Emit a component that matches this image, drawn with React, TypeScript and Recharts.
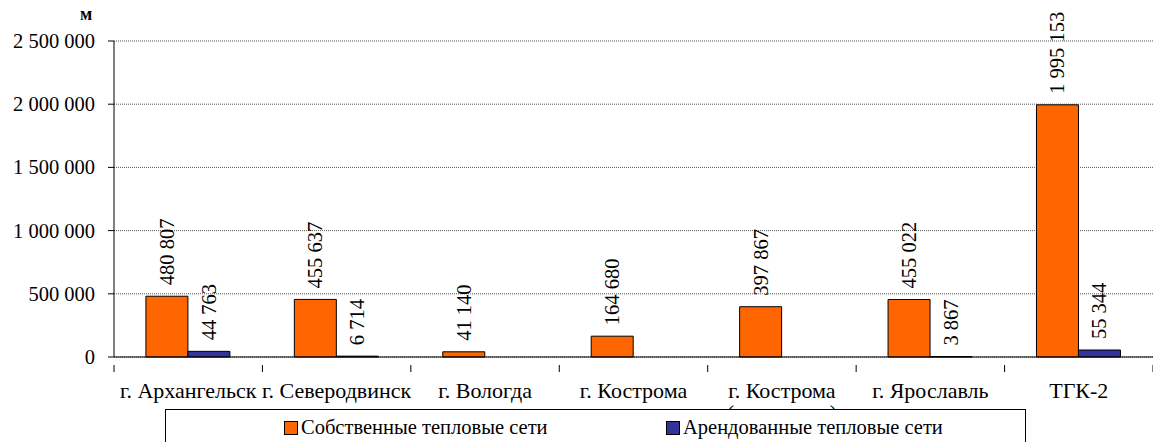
import { BarChart, Bar, XAxis, YAxis, CartesianGrid } from "recharts";

const categories = ["г. Архангельск", "г. Северодвинск", "г. Вологда", "г. Кострома", "г. Кострома\n(концессия)", "г. Ярославль", "ТГК-2"];
const ownNets = [480807, 455637, 41140, 164680, 397867, 455022, 1995153];
const leasedNets = [44763, 6714, null, null, null, 3867, 55344];
const yTicks = [0, 500000, 1000000, 1500000, 2000000, 2500000];

const data = categories.map((name, i) => ({ name, own: ownNets[i], leased: leasedNets[i] }));

const W = 1153;
const H = 442;
const LEFT = 114;
const band = (W - LEFT) / categories.length;
const font = '"Liberation Serif"';
const NUM = 20.5;
const TXT = 22;

const fmt = (v: number) => v.toString().replace(/\B(?=(\d{3})+(?!\d))/g, " ");

const XTick = ({ x, y, payload, index }: any) => {
  const lines = String(payload.value).split("\n");
  return (
    <g>
      <line x1={x - band / 2} y1={y} x2={x - band / 2} y2={y + 7} stroke="#000" />
      {index === categories.length - 1 && (
        <line x1={x + band / 2} y1={y} x2={x + band / 2} y2={y + 7} stroke="#000" />
      )}
      <text x={x} y={y + 33} textAnchor="middle" style={{ fontSize: TXT, fontFamily: font }} fill="#000">
        {lines.map((l, i) => (
          <tspan key={i} x={x} dy={i === 0 ? 0 : 22}>{l}</tspan>
        ))}
      </text>
    </g>
  );
};

const BarLabel = ({ x, y, width, value }: any) => {
  if (value == null) return null;
  const cx = x + width / 2;
  const ty = y - 11;
  return (
    <text x={cx} y={ty} transform={`rotate(-90, ${cx}, ${ty})`} textAnchor="start" dominantBaseline="central"
      style={{ fontSize: NUM, fontFamily: font }} fill="#000">
      {fmt(value)}
    </text>
  );
};

const YTick = ({ x, y, payload }: any) => (
  <text x={x} y={y} textAnchor="end" dominantBaseline="central" style={{ fontSize: NUM, fontFamily: font }} fill="#000">
    {fmt(payload.value)}
  </text>
);

export default function App() {
  return (
    <div style={{ position: "absolute", left: 0, top: 0, width: W, height: H, background: "#fff", overflow: "hidden", fontFamily: font }}>
      <BarChart width={W} height={H} data={data} margin={{ top: 41, right: 0, left: 0, bottom: 0 }}
        barCategoryGap="21.5%" barGap={0}>
        <CartesianGrid vertical={false} stroke="#555" strokeDasharray="1 1" />
        <XAxis dataKey="name" tick={<XTick />} tickLine={false} axisLine={{ stroke: "#000" }} interval={0} height={85} />
        <YAxis width={LEFT} domain={[0, 2500000]} ticks={yTicks} tickSize={6} tickMargin={13}
          axisLine={{ stroke: "#000" }} tickLine={{ stroke: "#000" }} tick={<YTick />} />
        <Bar dataKey="own" fill="#FF6600" stroke="#000" strokeWidth={1} isAnimationActive={false} label={<BarLabel />} />
        <Bar dataKey="leased" fill="#333399" stroke="#000" strokeWidth={1} isAnimationActive={false} label={<BarLabel />} />
      </BarChart>
      <div style={{ position: "absolute", left: 80, top: 4, fontWeight: "bold", fontSize: 18, fontFamily: font }}>м</div>
      <div style={{ position: "absolute", left: 165, top: 409, width: 861, height: 40, border: "1px solid #000", background: "#fff", boxSizing: "border-box", fontFamily: font }}>
        <div style={{ position: "absolute", left: 118, top: 6, display: "flex", alignItems: "center", fontSize: 20.5 }}>
          <span style={{ display: "inline-block", width: 12, height: 12, background: "#FF6600", border: "1px solid #000", marginRight: 3 }} />
          Собственные тепловые сети
        </div>
        <div style={{ position: "absolute", left: 500, top: 6, display: "flex", alignItems: "center", fontSize: 20.5 }}>
          <span style={{ display: "inline-block", width: 12, height: 12, background: "#333399", border: "1px solid #000", marginRight: 3 }} />
          Арендованные тепловые сети
        </div>
      </div>
    </div>
  );
}
